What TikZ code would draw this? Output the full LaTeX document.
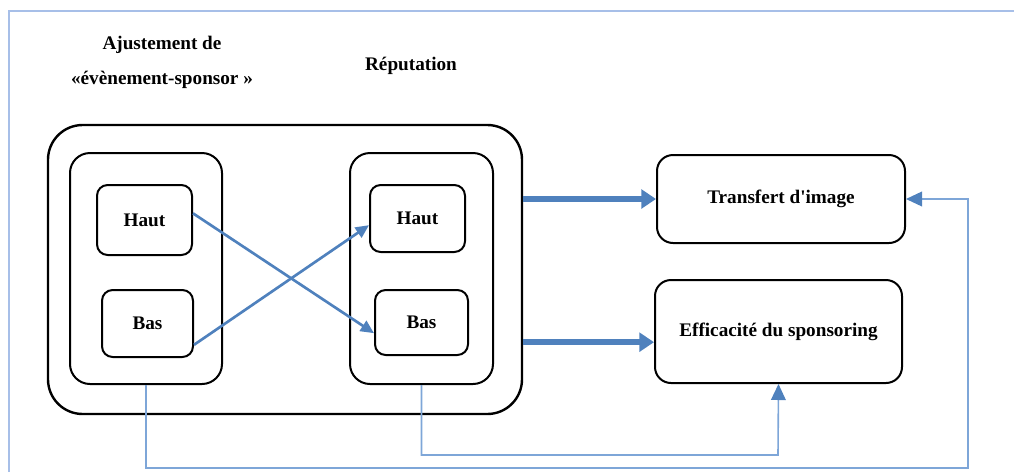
\documentclass[tikz,border=0pt]{standalone}
\usepackage{fontspec}
\setmainfont{Liberation Serif}
\usetikzlibrary{arrows.meta,positioning}
\definecolor{arrowblue}{HTML}{4F81BD}
\definecolor{lineblue}{HTML}{7EA6D8}
\definecolor{frameblue}{HTML}{A7BFE8}

\begin{document}
\begin{tikzpicture}[x=0.75pt, y=-0.75pt,
  every node/.style = {font=\bfseries\Large, align=center},
  bigbox/.style = {draw, line width=1.8pt, rounded corners=26pt},
  groupbox/.style = {draw, line width=1.5pt, rounded corners=15pt},
  levelbox/.style = {draw, line width=1.5pt, rounded corners=8pt},
  effectbox/.style = {draw, line width=1.5pt, rounded corners=12pt},
  bigarrow/.style = {arrowblue, line width=4.5pt, -{Triangle[length=11pt, width=14pt]}},
  crossarrow/.style = {arrowblue, line width=2pt, -{Triangle[length=10pt, width=9pt]}},
  loopline/.style = {lineblue, line width=1.2pt, -{Triangle[length=12pt, width=11pt, color=arrowblue]}}]
  \useasboundingbox (0,0) rectangle (1014,472);
  \draw[frameblue, line width=1.5pt] (9,472) -- (9,11) -- (1014,11);

  \node[bigbox, minimum width=355.5pt, minimum height=216.75pt] (outer) at (285,269.5) {};
  \node[groupbox, minimum width=114pt, minimum height=173.25pt] (fitgroup) at (146,268.5) {};
  \node[groupbox, minimum width=107.25pt, minimum height=173.25pt] (repgroup) at (421.5,268.5) {};
  \node[levelbox, minimum width=71.25pt, minimum height=52.5pt] (fithigh) at (144.5,220) {Haut};
  \node[levelbox, minimum width=68.25pt, minimum height=50.25pt] (fitlow) at (147.5,323.5) {Bas};
  \node[levelbox, minimum width=71.25pt, minimum height=50.25pt] (rephigh) at (417.5,218.5) {Haut};
  \node[levelbox, minimum width=69.75pt, minimum height=48.75pt] (replow) at (421.5,322.5) {Bas};
  \node[effectbox, minimum width=186pt, minimum height=66pt] (transfer) at (781,199) {Transfert d\textquotesingle image};
  \node[effectbox, minimum width=185.25pt, minimum height=77.25pt] (efficacy) at (778.5,331.5) {Efficacité du sponsoring};

  \node (fitlabel) at (162,62.5) {Ajustement de\\[8pt]«évènement-sponsor »};
  \node (replabel) at (411,66) {Réputation};

  % fit x reputation
  \draw[crossarrow] ([yshift=5pt]fithigh.east) -- ([yshift=-8pt]replow.west);
  \draw[crossarrow] ([yshift=-16pt]fitlow.east) -- ([yshift=-5pt]rephigh.west);

  % effects of the interaction
  \coordinate (efftip) at ([yshift=-8pt]efficacy.west);
  \draw[bigarrow] (outer.east |- transfer.west) -- (transfer.west);
  \draw[bigarrow] (outer.east |- efftip) -- (efftip);

  % direct links
  \coordinate (outerloop) at (968,468);
  \coordinate (innerloop) at (778,455);
  \draw[loopline] (fitgroup.south) |- (outerloop) |- (transfer.east);
  \draw[loopline] (repgroup.south) |- (innerloop) -- (efficacy.south);
\end{tikzpicture}
\end{document}
